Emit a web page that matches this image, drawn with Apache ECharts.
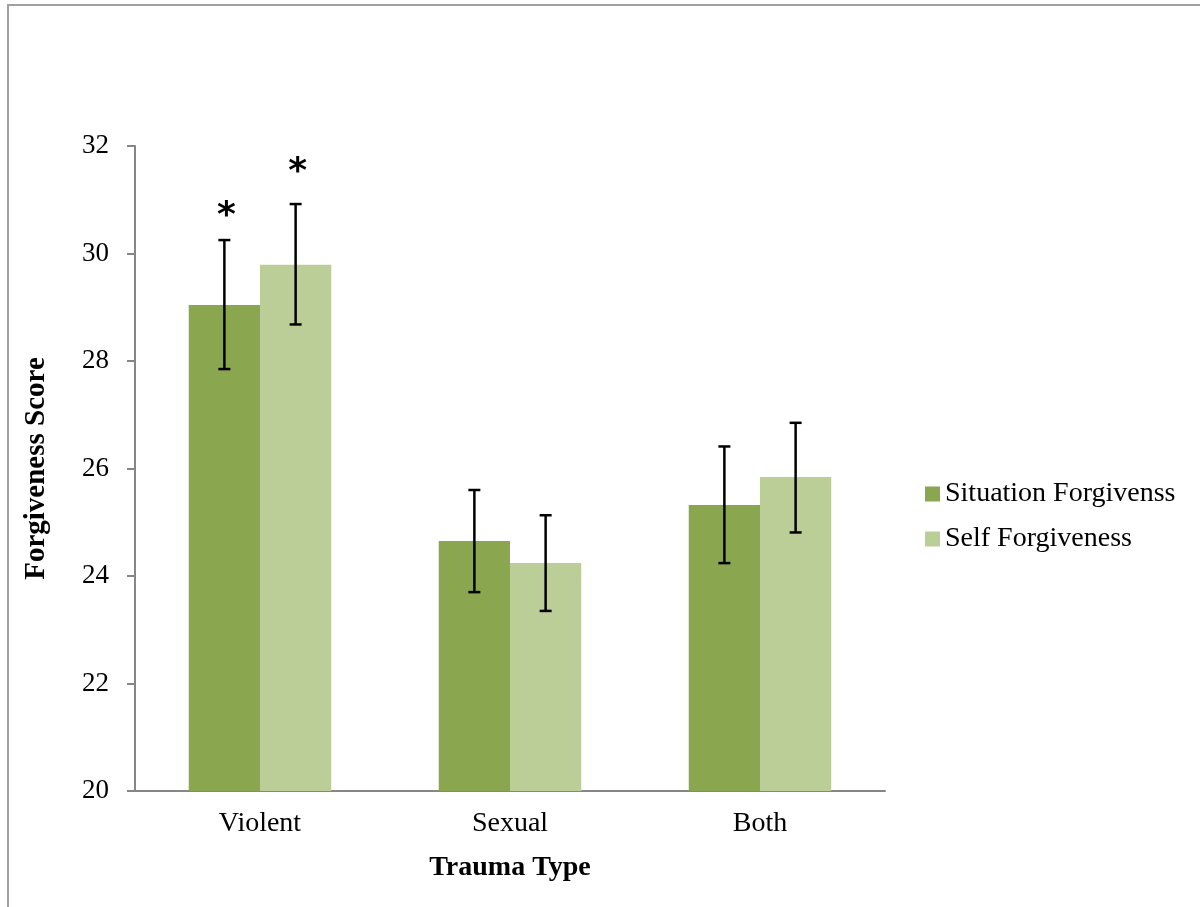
<!DOCTYPE html>
<html>
<head>
<meta charset="utf-8">
<script src="https://cdn.jsdelivr.net/npm/echarts@6/dist/echarts.min.js"></script>
<style>
  html, body { margin: 0; padding: 0; background: #fff; }
  #chart { width: 1200px; height: 907px; }
</style>
</head>
<body>
<div id="chart"></div>
<script>
const categories = ["Violent", "Sexual", "Both"];
const seriesNames = ["Situation Forgivenss", "Self Forgiveness"];
const situationMean = [29.04, 24.65, 25.32];
const situationLow = [27.85, 23.70, 24.24];
const situationHigh = [30.25, 25.60, 26.41];
const selfMean = [29.79, 24.24, 25.84];
const selfLow = [28.68, 23.35, 24.81];
const selfHigh = [30.92, 25.13, 26.85];
// significance markers, one per category
const situationSig = ["*", "", ""];
const selfSig = ["*", "", ""];
const yTicks = [20, 22, 24, 26, 28, 30, 32];

const font = "'Liberation Serif', serif";
const axisGray = "#868686";
const colors = ["#8AA64F", "#BBCE97"];

// error bar renderer; side -1 = left bar of the pair, 1 = right bar
function errorBar(side, sig, sigGap) {
  return function (params, api) {
    const idx = api.value(0);
    const hi = api.coord([idx, api.value(1)]);
    const lo = api.coord([idx, api.value(2)]);
    const bandW = api.size([1, 0])[0];
    const barW = bandW * 0.57 / 2;
    const x = hi[0] + side * barW / 2;
    const cap = 6;
    const style = { stroke: "#000", lineWidth: 2.5 };
    const children = [
      { type: "line", shape: { x1: x, y1: hi[1], x2: x, y2: lo[1] }, style },
      { type: "line", shape: { x1: x - cap, y1: hi[1], x2: x + cap, y2: hi[1] }, style },
      { type: "line", shape: { x1: x - cap, y1: lo[1], x2: x + cap, y2: lo[1] }, style }
    ];
    if (sig[idx]) {
      children.push({
        type: "text",
        style: {
          text: sig[idx], x: x + 2, y: hi[1] - sigGap,
          font: "bold 36px 'DejaVu Sans'", fill: "#000",
          align: "center", verticalAlign: "middle"
        }
      });
    }
    return { type: "group", children };
  };
}

const chart = echarts.init(document.getElementById("chart"));
chart.setOption({
  animation: false,
  textStyle: { fontFamily: font },
  graphic: [{
    type: "rect",
    shape: { x: 8, y: 5, width: 1200, height: 920 },
    style: { fill: "none", stroke: "#a0a0a0", lineWidth: 2 }
  }],
  grid: { left: 135, right: 315, top: 146, bottom: 116 },
  legend: {
    orient: "vertical",
    left: 920, top: 475,
    itemWidth: 15, itemHeight: 15, itemGap: 17,
    icon: "rect",
    data: seriesNames,
    textStyle: { fontSize: 28, fontFamily: font, color: "#000" }
  },
  xAxis: {
    type: "category",
    data: categories,
    name: "Trauma Type",
    nameLocation: "middle",
    nameGap: 63,
    nameTextStyle: { fontSize: 28, fontWeight: "bold", color: "#000", fontFamily: font },
    axisLine: { lineStyle: { color: axisGray, width: 2 } },
    axisTick: { length: 8, lineStyle: { color: axisGray, width: 2 } },
    axisLabel: { fontSize: 28, color: "#000", margin: 19, fontFamily: font }
  },
  yAxis: {
    type: "value",
    min: yTicks[0], max: yTicks[yTicks.length - 1], interval: 2,
    name: "Forgiveness Score",
    nameLocation: "middle",
    nameGap: 84,
    nameTextStyle: { fontSize: 29, fontWeight: "bold", color: "#000", fontFamily: font },
    axisLine: { show: true, lineStyle: { color: axisGray, width: 2 } },
    axisTick: { show: true, length: 8, lineStyle: { color: axisGray, width: 2 } },
    splitLine: { show: false },
    axisLabel: { fontSize: 27, color: "#000", margin: 26, fontFamily: font }
  },
  series: [
    {
      name: seriesNames[0], type: "bar", data: situationMean,
      itemStyle: { color: colors[0] },
      barGap: "0%", barCategoryGap: "43%"
    },
    {
      name: seriesNames[1], type: "bar", data: selfMean,
      itemStyle: { color: colors[1] },
      barGap: "0%", barCategoryGap: "43%"
    },
    {
      type: "custom", name: "errSituation",
      renderItem: errorBar(-1, situationSig, 23),
      data: categories.map((c, i) => [i, situationHigh[i], situationLow[i]]),
      z: 10
    },
    {
      type: "custom", name: "errSelf",
      renderItem: errorBar(1, selfSig, 31),
      data: categories.map((c, i) => [i, selfHigh[i], selfLow[i]]),
      z: 10
    }
  ]
});
</script>
</body>
</html>
